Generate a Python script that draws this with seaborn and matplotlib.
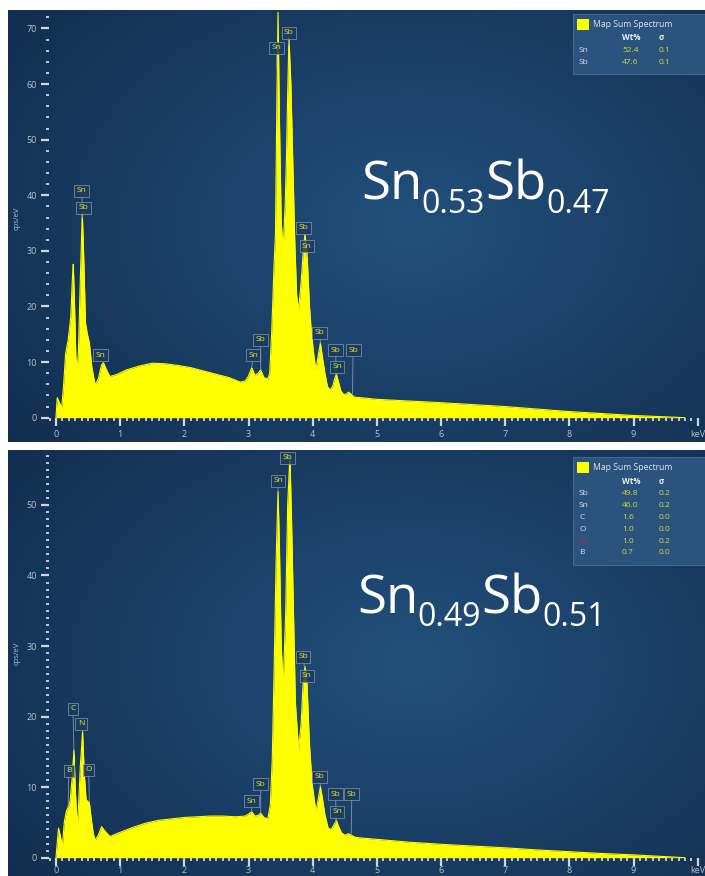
import numpy as np
import matplotlib
matplotlib.use("Agg")
import matplotlib.pyplot as plt
import seaborn as sns
from matplotlib.ticker import MultipleLocator
from matplotlib.patches import Rectangle

# ---------------- data ----------------
energy_a = [0.00, 0.02, 0.05, 0.09, 0.12, 0.15, 0.19, 0.23, 0.26, 0.27, 0.29, 0.31, 0.33, 0.35,
            0.38, 0.41, 0.43, 0.46, 0.49, 0.52, 0.56, 0.61, 0.66, 0.71, 0.74, 0.78, 0.84, 0.95,
            1.10, 1.30, 1.50, 1.70, 1.90, 2.10, 2.30, 2.50, 2.70, 2.87, 2.95, 3.00, 3.05, 3.10,
            3.15, 3.19, 3.24, 3.30, 3.33, 3.36, 3.40, 3.42, 3.44, 3.46, 3.48, 3.51, 3.54, 3.57,
            3.59, 3.61, 3.63, 3.66, 3.69, 3.72, 3.75, 3.78, 3.81, 3.83, 3.86, 3.88, 3.91, 3.95,
            3.98, 4.02, 4.05, 4.09, 4.12, 4.15, 4.19, 4.23, 4.27, 4.31, 4.35, 4.37, 4.40, 4.44,
            4.48, 4.52, 4.56, 4.60, 4.65, 4.75, 5.00, 5.50, 6.00, 6.50, 7.00, 7.50, 8.00, 8.50,
            9.00, 9.40, 9.80]
counts_a = [0.0, 3.6, 2.8, 1.8, 6.0, 11.5, 14.0, 18.0, 26.0, 27.6, 20.0, 11.0, 8.6, 12.0,
            25.0, 36.8, 30.0, 17.0, 15.0, 13.5, 9.0, 5.9, 7.0, 9.5, 9.9, 8.8, 7.4, 7.8,
            8.6, 9.3, 9.8, 9.7, 9.4, 9.0, 8.4, 7.8, 7.2, 6.4, 6.6, 7.5, 9.0, 7.6,
            8.0, 8.6, 7.2, 7.0, 8.0, 15.0, 28.0, 33.0, 55.0, 73.0, 55.0, 35.0, 30.5, 38.0,
            46.0, 58.0, 68.4, 60.0, 46.0, 32.0, 22.0, 19.4, 23.0, 26.0, 31.0, 33.0, 30.0, 20.0,
            15.2, 11.0, 8.6, 11.5, 13.4, 11.0, 8.0, 5.6, 5.0, 5.6, 7.3, 7.8, 6.5, 4.8,
            4.2, 4.2, 4.6, 4.2, 3.7, 3.6, 3.3, 3.0, 2.7, 2.35, 2.0, 1.55, 1.1, 0.75,
            0.4, 0.2, 0.0]

energy_b = [0.00, 0.04, 0.07, 0.10, 0.13, 0.16, 0.19, 0.22, 0.25, 0.28, 0.30, 0.33, 0.35, 0.38,
            0.415, 0.44, 0.47, 0.52, 0.55, 0.58, 0.61, 0.66, 0.71, 0.76, 0.84, 1.00, 1.20, 1.40,
            1.60, 1.80, 2.00, 2.20, 2.40, 2.60, 2.80, 2.95, 3.05, 3.10, 3.15, 3.19, 3.24, 3.30,
            3.34, 3.37, 3.40, 3.43, 3.46, 3.48, 3.51, 3.54, 3.58, 3.61, 3.645, 3.67, 3.70, 3.73,
            3.78, 3.82, 3.85, 3.88, 3.91, 3.95, 3.99, 4.05, 4.09, 4.12, 4.15, 4.19, 4.24, 4.29,
            4.34, 4.37, 4.40, 4.45, 4.50, 4.56, 4.60, 4.66, 4.75, 5.00, 5.50, 6.00, 6.50, 7.00,
            7.50, 8.00, 8.50, 9.00, 9.40, 9.80]
counts_b = [0.0, 4.2, 3.0, 1.6, 5.0, 6.5, 7.2, 8.0, 11.0, 15.3, 10.0, 4.4, 7.0, 13.0,
            17.9, 12.0, 8.2, 7.8, 5.5, 3.5, 2.5, 3.2, 4.4, 3.8, 3.0, 3.6, 4.3, 4.9,
            5.3, 5.5, 5.7, 5.8, 5.9, 5.9, 5.8, 5.9, 6.5, 5.9, 6.0, 6.3, 5.7, 5.5,
            7.5, 14.0, 27.0, 42.0, 51.9, 45.0, 30.0, 24.1, 35.0, 50.0, 57.0, 48.0, 35.0, 22.0,
            15.3, 19.0, 24.5, 27.1, 25.0, 16.0, 10.5, 6.5, 8.5, 10.1, 8.5, 6.1, 4.2, 4.0,
            4.8, 5.3, 4.5, 3.5, 3.2, 3.4, 3.2, 2.9, 2.8, 2.6, 2.2, 1.9, 1.65, 1.4,
            1.1, 0.85, 0.6, 0.4, 0.2, 0.0]

# peak labels: text, box centre (keV, cps/eV), tip (keV, cps/eV)
peak_text_a = ["Sn", "Sb", "Sn", "Sn", "Sb", "Sn", "Sb", "Sb", "Sn", "Sb", "Sb", "Sn", "Sb"]
peak_box_x_a = [0.40, 0.43, 0.69, 3.07, 3.19, 3.44, 3.63, 3.86, 3.91, 4.11, 4.36, 4.38, 4.63]
peak_box_y_a = [40.8, 37.8, 11.2, 11.2, 14.0, 66.5, 69.2, 34.2, 30.8, 15.3, 12.1, 9.2, 12.1]
peak_tip_x_a = [0.41, 0.415, 0.74, 3.05, 3.19, 3.44, 3.63, 3.87, 3.91, 4.12, 4.36, 4.38, 4.62]
peak_tip_y_a = [38.0, 36.0, 9.9, 9.0, 8.6, 63.0, 67.0, 33.0, 29.0, 13.4, 7.6, 7.8, 4.3]

peak_text_b = ["C", "N", "B", "O", "Sn", "Sb", "Sb", "Sn", "Sn", "Sb", "Sb", "Sb", "Sn", "Sb"]
peak_box_x_b = [0.265, 0.39, 0.20, 0.51, 3.46, 3.61, 3.85, 3.91, 3.05, 3.19, 4.11, 4.36, 4.38, 4.61]
peak_box_y_b = [21.1, 19.0, 12.3, 12.5, 53.4, 56.7, 28.5, 25.8, 8.0, 10.4, 11.5, 9.0, 6.5, 9.0]
peak_tip_x_b = [0.28, 0.415, 0.19, 0.52, 3.46, 3.645, 3.87, 3.91, 3.05, 3.19, 4.12, 4.36, 4.37, 4.60]
peak_tip_y_b = [15.3, 17.9, 7.2, 7.8, 51.9, 57.0, 27.1, 25.0, 6.5, 6.3, 10.1, 5.0, 5.3, 3.2]

quant_el_a = ["Sn", "Sb"]
quant_wt_a = ["52.4", "47.6"]
quant_sig_a = ["0.1", "0.1"]
quant_el_b = ["Sb", "Sn", "C", "O", "N", "B"]
quant_wt_b = ["49.8", "46.0", "1.6", "1.0", "1.0", "0.7"]
quant_sig_b = ["0.2", "0.2", "0.0", "0.0", "0.2", "0.0"]

formula_parts_a = [("Sn", False), ("0.53", True), ("Sb", False), ("0.47", True)]
formula_parts_b = [("Sn", False), ("0.49", True), ("Sb", False), ("0.51", True)]
x_tick_labels = ["0", "1", "2", "3", "4", "5", "6", "7", "8", "9", "keV"]

# ---------------- style ----------------
sns.set_theme(style="dark")
plt.rcParams["font.family"] = ["Open Sans", "DejaVu Sans"]

W, H = 705, 876
fig = plt.figure(figsize=(W / 100, H / 100), dpi=100)
fig.patch.set_facecolor("white")

def fx(x):
    return x / W

def fy(y):
    return 1 - y / H

YELLOW = "#ffff00"
TICK_C = "#cfd6de"
LABEL_C = "#b9c4d0"

def background(top, bottom):
    ax_bg = fig.add_axes([fx(8), fy(bottom), fx(W) - fx(8), (bottom - top) / H], zorder=0)
    yy, xx = np.mgrid[0:1:240j, 0:1:360j]
    d = np.sqrt(((xx - 0.58) / 0.75) ** 2 + ((yy - 0.5) / 0.85) ** 2)
    t = np.clip(d, 0, 1)[..., None]
    c0 = np.array([0x22, 0x50, 0x7c]) / 255
    c1 = np.array([0x12, 0x2d, 0x4e]) / 255
    img = c0 * (1 - t) + c1 * t
    ax_bg.imshow(img, aspect="auto", extent=[0, 1, 0, 1], interpolation="bicubic")
    ax_bg.set_axis_off()

def panel(y0_px, ytop_px, ymax, energy, counts, minor_y, texts, bx, by, tx, ty, xpad):
    left_px, right_px = 48.9, 701.0
    ax = fig.add_axes([fx(left_px), fy(y0_px), (right_px - left_px) / W, (y0_px - ytop_px) / H], zorder=2)
    ax.set_facecolor("none")
    ax.fill_between(energy, counts, 0, color=YELLOW, lw=0, zorder=2)
    sns.lineplot(x=energy, y=counts, ax=ax, color=YELLOW, lw=0.8, zorder=3, sort=False)
    ax.set_xlim(-0.11, 10.05)
    ax.set_ylim(0, ymax)
    for s in ax.spines.values():
        s.set_visible(False)
    ax.grid(False)
    ax.set_xticks(range(0, 11))
    ax.set_xticklabels(x_tick_labels)
    ax.xaxis.set_minor_locator(MultipleLocator(0.1))
    ax.yaxis.set_major_locator(MultipleLocator(10))
    ax.yaxis.set_minor_locator(MultipleLocator(minor_y))
    ax.tick_params(axis="both", which="major", colors=TICK_C, labelcolor=LABEL_C,
                   labelsize=6.5, length=5.5, width=1.6, direction="out", pad=3,
                   bottom=True, left=True)
    ax.tick_params(axis="x", which="major", pad=xpad)
    ax.tick_params(axis="both", which="minor", colors=TICK_C, length=2.2, width=1.3,
                   direction="out", bottom=True, left=True)
    ax.set_xlabel("")
    ax.set_ylabel("")
    for t_, x_, y_, px_, py_ in zip(texts, bx, by, tx, ty):
        ax.annotate(t_, xy=(px_, py_), xytext=(x_, y_), ha="center", va="center",
                    fontsize=6, color="#e8e82c", zorder=5,
                    bbox=dict(boxstyle="square,pad=0.3", fc="#1c3c60", ec="#8796a8", lw=0.6, alpha=0.85),
                    arrowprops=dict(arrowstyle="-", color="#8796a8", lw=0.6, shrinkA=0, shrinkB=0))
    return ax

def quant_box(top, bottom, els, wts, sigs):
    fig.patches.append(Rectangle((fx(573), fy(bottom)), fx(W) - fx(573), (bottom - top) / H,
                                 transform=fig.transFigure, fc="#2a537d", ec="#4c7098", lw=0.6,
                                 zorder=3))
    fig.patches.append(Rectangle((fx(577), fy(top + 16)), fx(12), 11 / H,
                                 transform=fig.transFigure, fc=YELLOW, ec="none", zorder=4))
    fig.text(fx(593), fy(top + 10.5), "Map Sum Spectrum", fontsize=6.2, color="#dfe5ec",
             va="center", ha="left", zorder=5)
    fig.text(fx(622), fy(top + 24), "Wt%", fontsize=5.8, color="#f0f0f0", weight="bold",
             va="center", ha="left", zorder=5)
    fig.text(fx(659), fy(top + 24), "σ", fontsize=5.8, color="#f0f0f0", weight="bold",
             va="center", ha="left", zorder=5)
    for i, (e, w, s) in enumerate(zip(els, wts, sigs)):
        yy = top + 36.5 + i * 11.9
        ec = "#c8213d" if e == "N" else "#dfe4ea"
        fig.text(fx(579), fy(yy), e, fontsize=6, color=ec, va="center", ha="left", zorder=5)
        fig.text(fx(622), fy(yy), w, fontsize=6, color="#d2dc3c", va="center", ha="left", zorder=5)
        fig.text(fx(659), fy(yy), s, fontsize=6, color="#d2dc3c", va="center", ha="left", zorder=5)

def formula(x_px, base_px, parts, size=38, sub_size=23, sub_drop=13):
    renderer = fig.canvas.get_renderer()
    x = x_px
    for txt, is_sub in parts:
        y = base_px + (sub_drop if is_sub else 0)
        t = fig.text(fx(x), fy(y), txt, fontsize=sub_size if is_sub else size,
                     color="white", ha="left", va="baseline", zorder=5)
        bb = t.get_window_extent(renderer=renderer)
        x = x + bb.width + (1 if is_sub else -1)

background(10, 442)
background(450, 876)

ax_a = panel(417.7, 11.8, 73.0, energy_a, counts_a, 2, peak_text_a, peak_box_x_a,
             peak_box_y_a, peak_tip_x_a, peak_tip_y_a, 3)
ax_b = panel(857.7, 452.0, 57.5, energy_b, counts_b, 1, peak_text_b, peak_box_x_b,
             peak_box_y_b, peak_tip_x_b, peak_tip_y_b, 0.6)

fig.text(fx(17), fy(218), "cps/eV", rotation=90, fontsize=5.5, color=LABEL_C,
         va="center", ha="center", zorder=5)
fig.text(fx(17), fy(653), "cps/eV", rotation=90, fontsize=5.5, color=LABEL_C,
         va="center", ha="center", zorder=5)

formula(361, 200, formula_parts_a)
formula(357, 613, formula_parts_b)

quant_box(14, 74, quant_el_a, quant_wt_a, quant_sig_a)
quant_box(457, 565, quant_el_b, quant_wt_b, quant_sig_b)

fig.savefig("out.png", dpi=100)
